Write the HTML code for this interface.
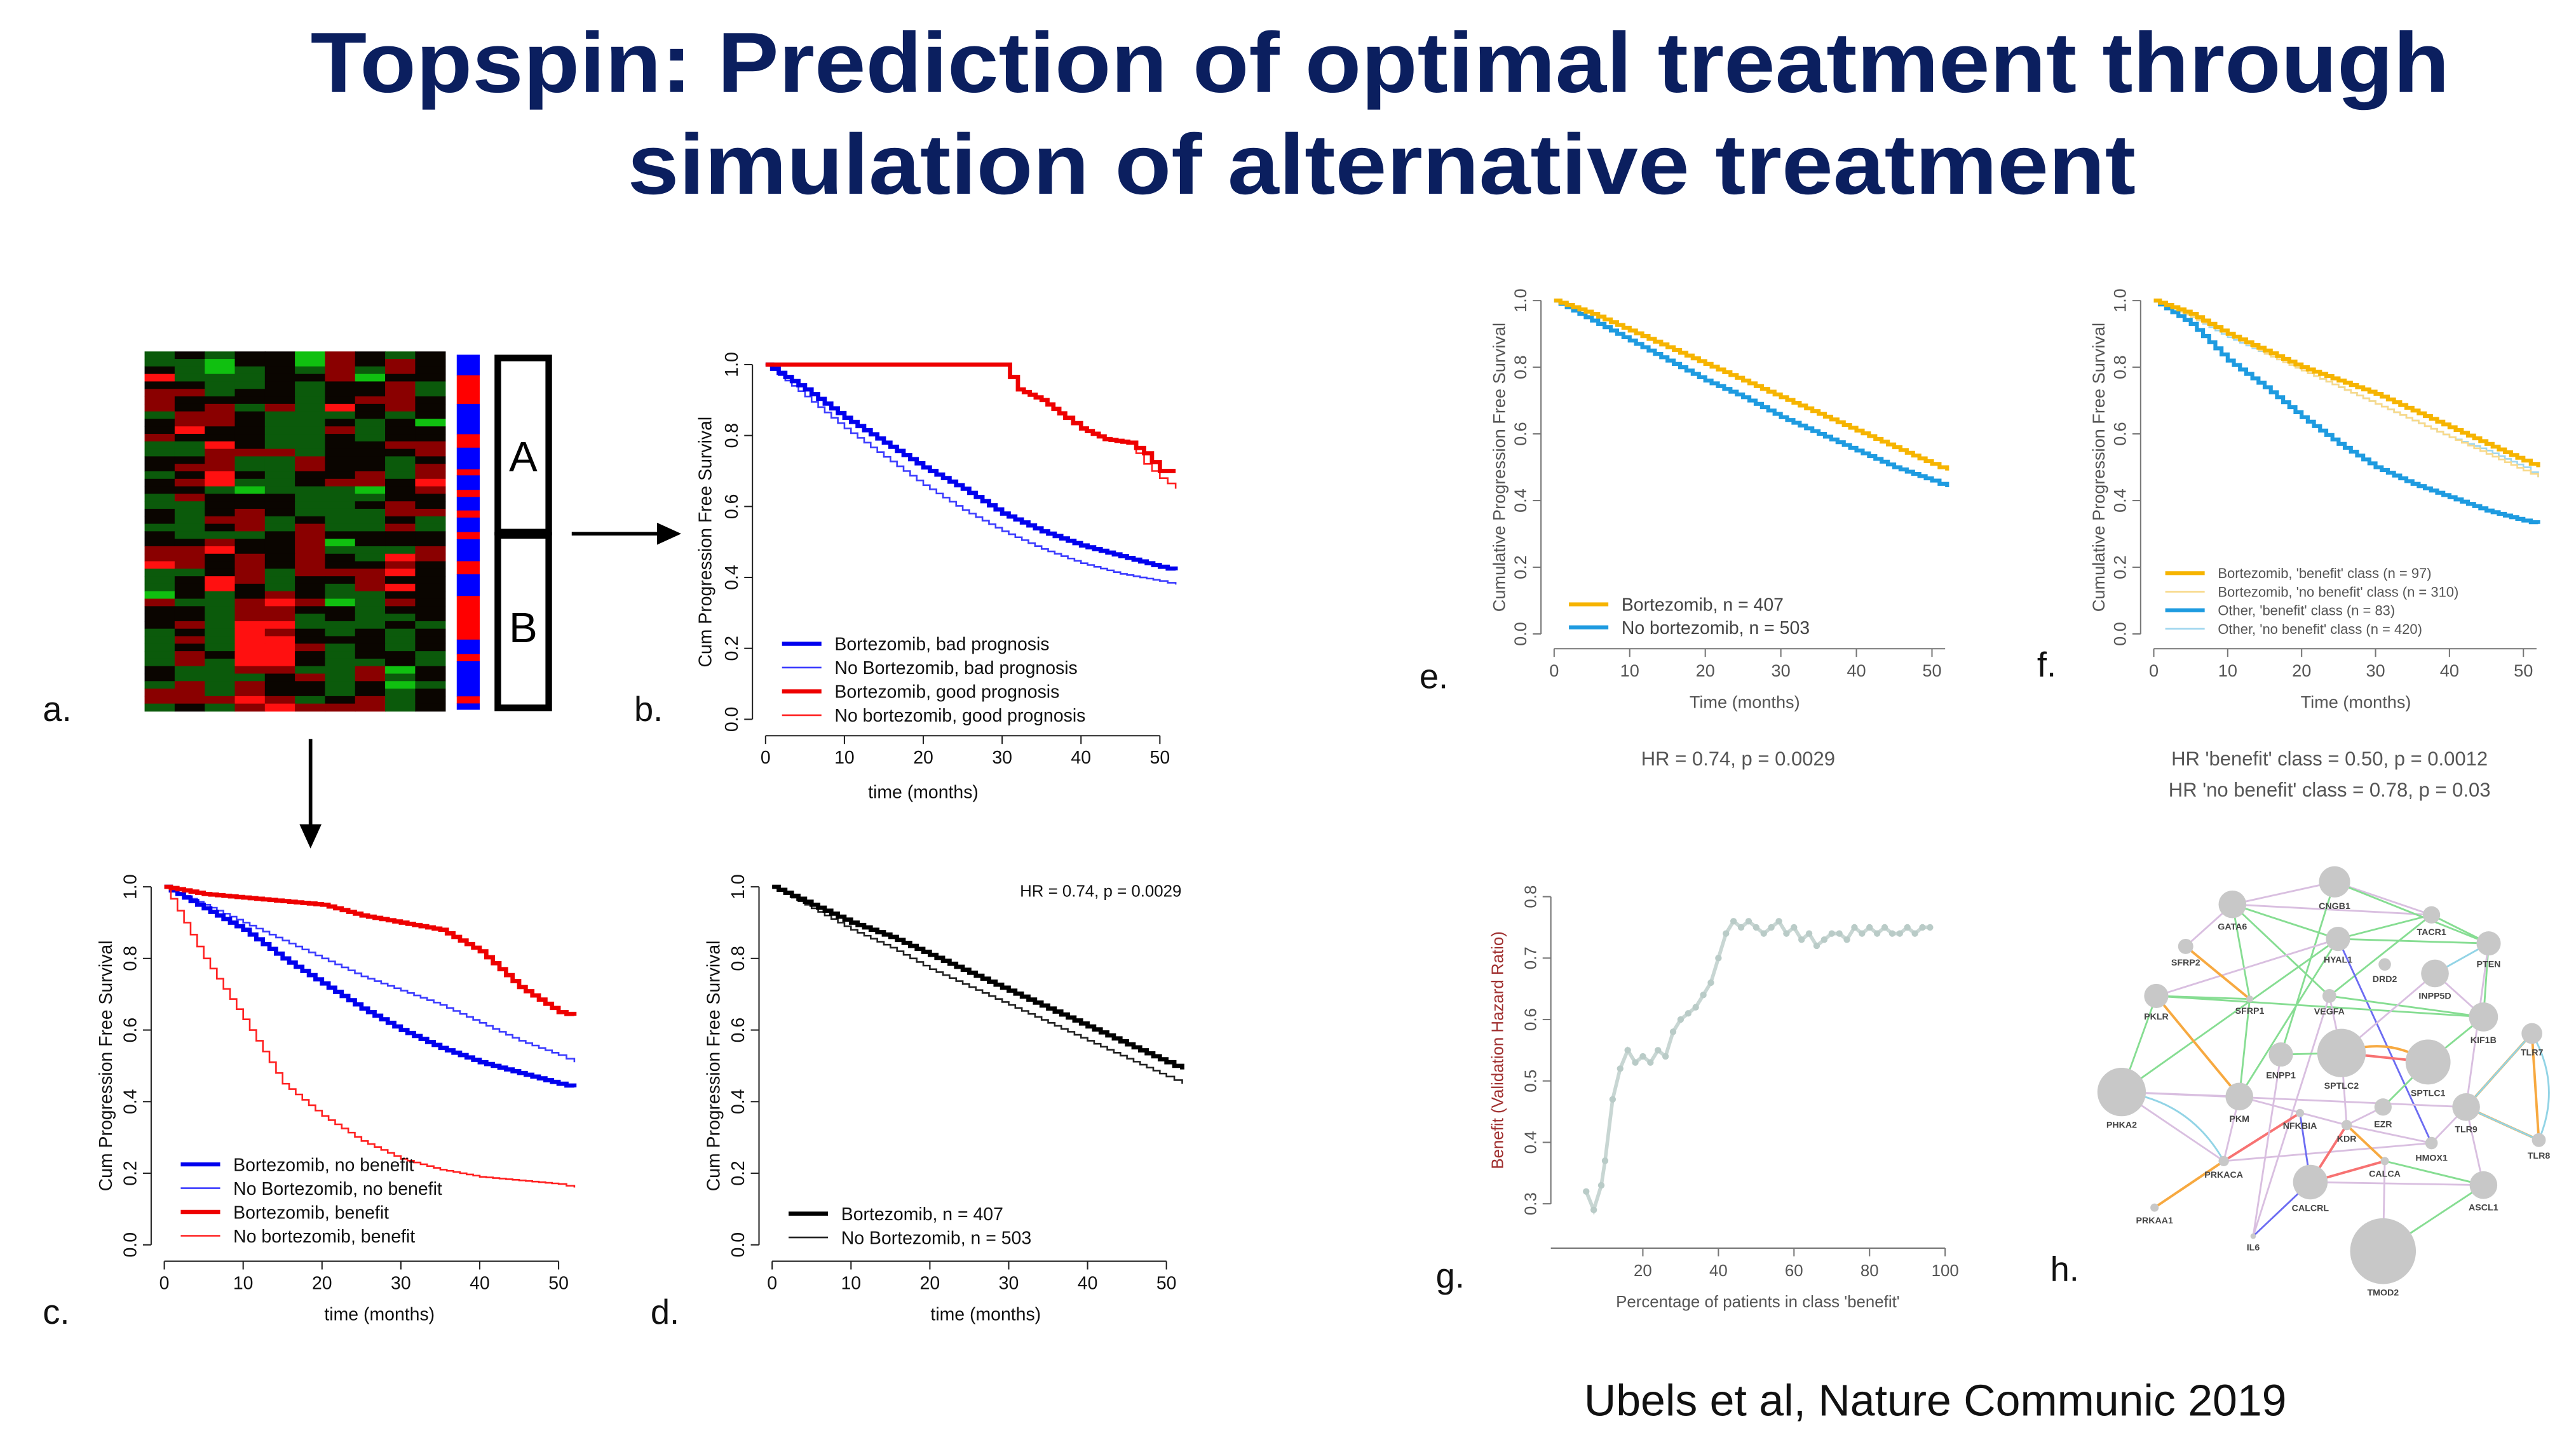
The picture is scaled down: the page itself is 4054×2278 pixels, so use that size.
<!DOCTYPE html>
<html><head><meta charset="utf-8">
<style>
html,body{margin:0;padding:0;background:#fff;}
svg{display:block;}
text{font-family:"Liberation Sans",Arial,sans-serif;}
</style></head>
<body>
<svg id="root" xmlns="http://www.w3.org/2000/svg" width="4054" height="2278" viewBox="0 0 1568 881.1">
<rect x="0" y="0" width="1568" height="881.1" fill="#fff"/>
<g fill="#0b1f5f" font-weight="bold" font-size="52" text-anchor="middle">
<text x="840" y="56" textLength="1302" lengthAdjust="spacingAndGlyphs">Topspin: Prediction of optimal treatment through</text>
<text x="841" y="118" textLength="918" lengthAdjust="spacingAndGlyphs">simulation of alternative treatment</text>
</g>
<text x="1178" y="862" font-size="27" text-anchor="middle" fill="#111">Ubels et al, Nature Communic 2019</text>
<g id="panelLabels" font-size="21" fill="#111"></g>
<g id="heat"></g>
<g id="plots"></g>
<g id="net"></g>
</svg>
<script>
// ---------- data ----------
const heatRows = ["gkgkkGrkgk","ggGkkGrkrk","kgGgkgrgrk","RgggkkrGkk","kkggkgkkrg","rrgkkgkkrg","rkkkkgkrrk","rkrgrgRkrk","grrkgggkgk","krrkggkgkG","kRkkggrgkk","rkkkggkgkk","ggRkggkkrr","ggrrrgkkkr","kkrggrkkgk","krrggrkkgr","gkRkgkkrgr","krRggkrrkR","kkgGgggGkr","grkkkgggkk","ggkkkggkrk","kgkrkgggrr","kgrrgkggkg","ggkrgrggrg","kgggkrkkkk","kkrkkrGkkk","rrRkkrgggr","rrkrkrkgRr","Rrkrkrkkrk","ggkrgrrrRk","gkRrgkkrkk","gkRkgkgrRk","Gkgkrkggkk","rggrRrGgrk","kkgrrkkgkk","kkgrrgkggk","krgRRgggkg","gkgRrkgkgk","grgRRkkkgk","gkgRRrgkgk","grkRRkgkkg","grgRRkggkg","kggrrggrGk","kgggkrgrgk","grgrkkgkGg","rrgrkkgkgk","rrrRrgkrgk","gkgrRrrrgk"];
const stripBreaks = [0,0.058,0.139,0.224,0.262,0.323,0.340,0.381,0.401,0.439,0.459,0.500,0.520,0.582,0.619,0.680,0.803,0.844,0.864,0.963,0.983,1];
const months = [0,5,10,15,20,25,30,35,40,45,50,52];
// panel b
const bBortBad   = [1,0.93,0.85,0.78,0.71,0.65,0.58,0.53,0.49,0.46,0.43,0.42];
const bNoBortBad = [1,0.91,0.82,0.74,0.66,0.59,0.53,0.48,0.44,0.41,0.39,0.38];
const bGoodT     = [0,30,32,35,38,40,43,46,48,50,52];
const bBortGood  = [1,1,0.93,0.90,0.85,0.82,0.79,0.78,0.75,0.70,0.70];
const bNoBortGood= [1,1,0.93,0.90,0.85,0.82,0.79,0.78,0.72,0.68,0.65];
// panel c
const cBortNo    = [1,0.94,0.88,0.80,0.73,0.66,0.60,0.55,0.51,0.48,0.45,0.44];
const cNoBortNo  = [1,0.95,0.90,0.85,0.80,0.75,0.71,0.67,0.62,0.57,0.53,0.51];
const cBortBen   = [1,0.98,0.97,0.96,0.95,0.92,0.90,0.88,0.82,0.72,0.65,0.64];
const cNoBortBen = [1,0.80,0.63,0.45,0.36,0.29,0.24,0.21,0.19,0.18,0.17,0.16];
// panel d
const dBort      = [1,0.95,0.90,0.86,0.81,0.76,0.71,0.66,0.61,0.56,0.51,0.49];
const dNoBort    = [1,0.94,0.88,0.83,0.77,0.72,0.67,0.62,0.57,0.52,0.47,0.45];
// panel e
const eBort      = [1,0.96,0.91,0.86,0.81,0.76,0.71,0.66,0.61,0.56,0.51,0.49];
const eNoBort    = [1,0.94,0.88,0.82,0.76,0.71,0.65,0.60,0.55,0.50,0.46,0.44];
// panel f
const fBortBen   = [1,0.96,0.90,0.85,0.80,0.76,0.72,0.67,0.62,0.57,0.52,0.50];
const fBortNo    = [1,0.95,0.90,0.84,0.79,0.74,0.69,0.64,0.59,0.54,0.49,0.47];
const fOtherBen  = [1,0.93,0.82,0.74,0.65,0.57,0.50,0.45,0.41,0.37,0.34,0.33];
const fOtherNo   = [1,0.95,0.89,0.84,0.79,0.74,0.69,0.64,0.59,0.55,0.50,0.47];
// panel g
const gPct = [5,7,9,10,12,14,16,18,20,22,24,26,28,30,32,34,36,38,40,42,44,46,48,50,52,54,56,58,60,62,64,66,68,70,72,74,76,78,80,82,84,86,88,90,92,94,96];
const gHR  = [0.32,0.29,0.33,0.37,0.47,0.52,0.55,0.53,0.54,0.53,0.55,0.54,0.58,0.60,0.61,0.62,0.64,0.66,0.70,0.74,0.76,0.75,0.76,0.75,0.74,0.75,0.76,0.74,0.75,0.73,0.74,0.72,0.73,0.74,0.74,0.73,0.75,0.74,0.75,0.74,0.75,0.74,0.74,0.75,0.74,0.75,0.75];
const xTicks50 = [0,10,20,30,40,50];
const yTicks1 = [0,0.2,0.4,0.6,0.8,1.0];
const gXTicks = [20,40,60,80,100];
const gYTicks = [0.3,0.4,0.5,0.6,0.7,0.8];
// network (positions in zoom units)
const netNodes = [["CNGB1",870,100,45],["GATA6",575,175,40],["TACR1",1150,210,25],["HYAL1",880,290,35],["SFRP2",440,315,22],["PTEN",1315,305,35],["DRD2",1015,375,18],["INPP5D",1160,405,40],["PKLR",355,480,35],["SFRP1",625,490,10],["VEGFA",855,480,20],["KIF1B",1300,550,42],["TLR7",1440,605,30],["ENPP1",715,675,35],["SPTLC2",890,670,70],["SPTLC1",1140,700,65],["PHKA2",255,800,70],["PKM",595,815,40],["EZR",1010,850,25],["NFKBIA",770,870,12],["TLR9",1250,850,40],["KDR",905,910,15],["HMOX1",1150,970,18],["TLR8",1460,960,20],["PRKACA",550,1030,15],["CALCA",1015,1030,12],["CALCRL",800,1100,50],["ASCL1",1300,1110,40],["PRKAA1",350,1185,12],["IL6",635,1280,8],["TMOD2",1010,1330,95]];
const netEdges = [["GATA6","TACR1","l"],["GATA6","HYAL1","g"],["GATA6","SFRP1","g"],["GATA6","VEGFA","g"],["GATA6","CNGB1","l"],["CNGB1","TACR1","l"],["CNGB1","PTEN","g"],["CNGB1","ENPP1","g"],["TACR1","HYAL1","g"],["TACR1","PTEN","g"],["TACR1","VEGFA","g"],["HYAL1","PTEN","g"],["HYAL1","PKLR","l"],["HYAL1","PHKA2","g"],["HYAL1","HMOX1","b"],["HYAL1","PKM","g"],["SFRP2","SFRP1","o"],["SFRP2","GATA6","l"],["PKLR","SFRP1","g"],["PKLR","KIF1B","g"],["PKLR","PKM","o"],["PKLR","PHKA2","g"],["SFRP1","PKM","g"],["VEGFA","KIF1B","g"],["VEGFA","IL6","l"],["VEGFA","SPTLC2","l"],["PTEN","INPP5D","c"],["PTEN","KIF1B","g"],["PTEN","TLR9","l"],["INPP5D","SPTLC2","l"],["INPP5D","KIF1B","l"],["SPTLC2","SPTLC1","r"],["SPTLC2","SPTLC1","o"],["SPTLC1","EZR","g"],["SPTLC1","KIF1B","g"],["PHKA2","PKM","l"],["PHKA2","TLR9","l"],["PHKA2","PRKACA","l"],["PHKA2","PRKACA","c"],["PKM","PRKACA","l"],["PKM","KDR","l"],["PRKACA","NFKBIA","r"],["PRKACA","PRKAA1","o"],["PRKACA","HMOX1","l"],["NFKBIA","CALCRL","b"],["KDR","CALCRL","r"],["KDR","CALCA","o"],["KDR","SPTLC2","l"],["CALCRL","CALCA","r"],["CALCRL","ASCL1","l"],["CALCRL","IL6","b"],["CALCA","TMOD2","l"],["CALCA","ASCL1","g"],["TMOD2","ASCL1","g"],["TLR9","TLR7","o"],["TLR9","TLR8","o"],["TLR9","TLR7","c"],["TLR9","TLR8","c"],["TLR7","TLR8","o"],["TLR7","TLR8","c"],["TLR9","ASCL1","l"],["TLR9","HMOX1","l"],["ENPP1","IL6","l"],["ENPP1","SPTLC2","g"],["EZR","KDR","l"],["HMOX1","KDR","l"]];
const edgeColors = {g:"#86dd92",l:"#d9bfe0",o:"#f7a940",r:"#f77272",b:"#6c6cf2",c:"#92d4e6"};
const heatColors = {R:"#ff1010",r:"#8a0000",k:"#0a0500",g:"#0b5a0b",G:"#10c010"};

// ---------- helpers ----------
const NS="http://www.w3.org/2000/svg";
function mk(tag, parent, attrs){const e=document.createElementNS(NS,tag);for(const k in attrs)e.setAttribute(k,attrs[k]);parent.appendChild(e);return e;}

// panel letters
const letters=[["a.",26,439],["b.",386,439],["c.",26,806],["d.",396,806],["e.",864,419],["f.",1240,412],["g.",874,784],["h.",1248,780]];
const pl=document.getElementById('panelLabels');
letters.forEach(l=>{const t=mk('text',pl,{x:l[1],y:l[2]});t.textContent=l[0];

});

// heatmap
const heat=document.getElementById('heat');
const hx=88,hy=214,hw=183,hh=219;
const rh=hh/heatRows.length, cw=hw/10;
heatRows.forEach((row,i)=>{for(let j=0;j<10;j++){const c=mk('rect',heat,{x:hx+j*cw,y:hy+i*rh,width:cw+0.3,height:rh+0.3,fill:heatColors[row[j]]});

}});
for(let i=0;i<stripBreaks.length-1;i++){const s=mk('rect',heat,{x:278,y:216+stripBreaks[i]*216,width:14,height:(stripBreaks[i+1]-stripBreaks[i])*216+0.2,fill:i%2==0?"#0000ff":"#ff0000"});

}
const boxA=mk('rect',heat,{x:303,y:218,width:31,height:106,fill:"#fff",stroke:"#000","stroke-width":4});


const boxB=mk('rect',heat,{x:303,y:326,width:31,height:105,fill:"#fff",stroke:"#000","stroke-width":4});


[["A",318.5,287],["B",318.5,391]].forEach(a=>{const t=mk('text',heat,{x:a[1],y:a[2],"font-size":26,"text-anchor":"middle"});t.textContent=a[0];

});
// arrows
const ar1=mk('path',heat,{d:"M348 325 L404 325 M412 325 L401 320 L401 330 Z",stroke:"#000","stroke-width":2.2,fill:"#000"});


const ar2=mk('path',heat,{d:"M189 450 L189 505 M189 514 L184 503 L194 503 Z",stroke:"#000","stroke-width":2.2,fill:"#000"});



// ---------- KM plots ----------
const plots=document.getElementById('plots');
function panel(cfg){
  const g=mk('g',plots,{});
  
  
  const X=v=>cfg.x0+(v-cfg.xmin)*cfg.xs;
  const Y=v=>cfg.yb+(v-cfg.ymin)/(cfg.ymax-cfg.ymin)*(cfg.yt-cfg.yb);
  const col=cfg.axisColor, fs=cfg.fs;
  const ya=mk('line',g,{x1:cfg.yAxisX,x2:cfg.yAxisX,y1:Y(cfg.yTicks[0]),y2:Y(cfg.yTicks[cfg.yTicks.length-1]),stroke:col,"stroke-width":0.8});
  
  
  cfg.yTicks.forEach(v=>{mk('line',g,{x1:cfg.yAxisX-5,x2:cfg.yAxisX,y1:Y(v),y2:Y(v),stroke:col,"stroke-width":0.8});
    const t=mk('text',g,{x:cfg.yAxisX-9,y:Y(v),"font-size":fs,fill:cfg.textColor,"text-anchor":"middle",transform:`rotate(-90 ${cfg.yAxisX-9} ${Y(v)})`});
    t.textContent=v.toFixed(1);
    
    });
  const xa=mk('line',g,{x1:cfg.xAxisStart!==undefined?cfg.xAxisStart:X(cfg.xTicks[0]),x2:X(cfg.xTicks[cfg.xTicks.length-1])+(cfg.xExt||0),y1:cfg.xAxisY,y2:cfg.xAxisY,stroke:col,"stroke-width":0.8});
  
  
  cfg.xTicks.forEach(v=>{mk('line',g,{x1:X(v),x2:X(v),y1:cfg.xAxisY,y2:cfg.xAxisY+5,stroke:col,"stroke-width":0.8});
    const t=mk('text',g,{x:X(v),y:cfg.xAxisY+17,"font-size":fs,fill:cfg.textColor,"text-anchor":"middle"});
    t.textContent=String(v);
    
    });
  const xl=mk('text',g,{x:cfg.xlab[1],y:cfg.xlab[2],"font-size":fs,fill:cfg.textColor,"text-anchor":"middle"});
  xl.textContent=cfg.xlab[0];
  
  
  const ylY=(cfg.yt+cfg.yb)/2;
  const yl=mk('text',g,{x:cfg.ylabX,y:ylY,"font-size":fs,fill:cfg.ylabColor||cfg.textColor,"text-anchor":"middle",transform:`rotate(-90 ${cfg.ylabX} ${ylY})`});
  yl.textContent=cfg.ylab;
  
  
  return {g,X,Y};
}
function stepCurve(p,times,vals,color,w,name){
  let d=`M${p.X(times[0])} ${p.Y(vals[0])}`;
  for(let i=1;i<times.length;i++){
    const t0=times[i-1],t1=times[i],v0=vals[i-1],v1=vals[i];
    const n=Math.max(1,Math.round((t1-t0)*1.2));
    for(let k=1;k<=n;k++){
      const tt=t0+(t1-t0)*k/n; const vv=v0+(v1-v0)*k/n;
      d+=` H${p.X(tt).toFixed(2)} V${p.Y(vv).toFixed(2)}`;
    }
  }
  const e=mk('path',p.g,{d:d,stroke:color,"stroke-width":w,fill:"none","stroke-linejoin":"miter"});
  
  
}
function legend(p,x,y0,dy,items,fs,color){
  items.forEach((it,i)=>{const y=y0+i*dy;
    const l=mk('line',p.g,{x1:x,x2:x+24,y1:y,y2:y,stroke:it[1],"stroke-width":it[2]});
    
    
    const t=mk('text',p.g,{x:x+32,y:y+fs*0.36,"font-size":fs,fill:color});
    t.textContent=it[0];
    
    });
}
function txt(p,s,x,y,fs,color,name){const t=mk('text',p.g,{x:x,y:y,"font-size":fs,fill:color,"text-anchor":"middle"});t.textContent=s;

}

const base={xmin:0,ymin:0,ymax:1,xTicks:xTicks50,yTicks:yTicks1,axisColor:"#222",textColor:"#111",fs:11};
let pb=panel(Object.assign({},base,{name:"km-plot-b",x0:466,xs:4.8,yt:222,yb:438,yAxisX:458,xAxisY:448,xlab:["time (months)",562,486],ylab:"Cum Progression Free Survival",ylabX:433}));
stepCurve(pb,months,bNoBortBad,"#3b3bff",1,"curve-no-bortezomib-bad");
stepCurve(pb,months,bBortBad,"#0000ee",2.6,"curve-bortezomib-bad");
stepCurve(pb,bGoodT,bNoBortGood,"#ff2020",1,"curve-no-bortezomib-good");
stepCurve(pb,bGoodT,bBortGood,"#ee0000",2.6,"curve-bortezomib-good");
legend(pb,476,392,14.5,[["Bortezomib, bad prognosis","#0000ee",2.5],["No Bortezomib, bad prognosis","#3b3bff",1],["Bortezomib, good prognosis","#ee0000",2.5],["No bortezomib, good prognosis","#ff2020",1]],11,"#111");
let pc=panel(Object.assign({},base,{name:"km-plot-c",x0:100,xs:4.8,yt:540,yb:758,yAxisX:92,xAxisY:768,xlab:["time (months)",231,804],ylab:"Cum Progression Free Survival",ylabX:68}));
stepCurve(pc,months,cNoBortNo,"#3b3bff",1,"curve-no-bortezomib-no-benefit");
stepCurve(pc,months,cBortNo,"#0000ee",2.6,"curve-bortezomib-no-benefit");
stepCurve(pc,months,cNoBortBen,"#ff2020",1,"curve-no-bortezomib-benefit");
stepCurve(pc,months,cBortBen,"#ee0000",2.6,"curve-bortezomib-benefit");
legend(pc,110,709,14.5,[["Bortezomib, no benefit","#0000ee",2.5],["No Bortezomib, no benefit","#3b3bff",1],["Bortezomib, benefit","#ee0000",2.5],["No bortezomib, benefit","#ff2020",1]],11,"#111");
let pd=panel(Object.assign({},base,{name:"km-plot-d",x0:470,xs:4.8,yt:540,yb:758,yAxisX:462,xAxisY:768,xlab:["time (months)",600,804],ylab:"Cum Progression Free Survival",ylabX:438}));
stepCurve(pd,months,dNoBort,"#222",1,"curve-no-bortezomib");
stepCurve(pd,months,dBort,"#000",2.6,"curve-bortezomib");
legend(pd,480,739,14.5,[["Bortezomib, n = 407","#000",2.5],["No Bortezomib, n = 503","#222",1]],11,"#111");
txt(pd,"HR = 0.74, p = 0.0029",670,546,10,"#111","hazard-ratio-d");
const eb=Object.assign({},base,{axisColor:"#777",textColor:"#555",fs:10.5});
let pe=panel(Object.assign({},eb,{name:"km-plot-e",x0:946,xs:4.6,yt:183,yb:386,yAxisX:938,xAxisY:395,xExt:8,xlab:["Time (months)",1062,431],ylab:"Cumulative Progression Free Survival",ylabX:916}));
stepCurve(pe,months,eNoBort,"#1e9be0",2.4,"curve-no-bortezomib");
stepCurve(pe,months,eBort,"#f6b400",2.4,"curve-bortezomib");
legend(pe,955,368,14,[["Bortezomib, n = 407","#f6b400",2.4],["No bortezomib, n = 503","#1e9be0",2.4]],11,"#444");
txt(pe,"HR = 0.74, p = 0.0029",1058,466,12,"#555","hazard-ratio-e");
let pf=panel(Object.assign({},eb,{name:"km-plot-f",x0:1311,xs:4.5,yt:183,yb:386,yAxisX:1303,xAxisY:395,xExt:8,xlab:["Time (months)",1434,431],ylab:"Cumulative Progression Free Survival",ylabX:1281}));
stepCurve(pf,months,fOtherNo,"#9fd6ef",1,"curve-other-no-benefit");
stepCurve(pf,months,fBortNo,"#f8d98a",1,"curve-bortezomib-no-benefit");
stepCurve(pf,months,fOtherBen,"#1e9be0",2.4,"curve-other-benefit");
stepCurve(pf,months,fBortBen,"#f6b400",2.4,"curve-bortezomib-benefit");
const fl=[["Bortezomib, 'benefit' class (n = 97)","#f6b400",2.4],["Bortezomib, 'no benefit' class (n = 310)","#f8d98a",1],["Other, 'benefit' class (n = 83)","#1e9be0",2.4],["Other, 'no benefit' class (n = 420)","#9fd6ef",1]];
legend(pf,1318,349,11.3,fl,8.5,"#555");
txt(pf,"HR 'benefit' class = 0.50, p = 0.0012",1418,466,12,"#555","hazard-ratio-f-benefit");
txt(pf,"HR 'no benefit' class = 0.78, p = 0.03",1418,485,12,"#555","hazard-ratio-f-no-benefit");
let pg=panel(Object.assign({},eb,{name:"benefit-plot-g",xmin:0,x0:954,xs:2.3,ymin:0.3,ymax:0.8,yt:546,yb:733,xTicks:gXTicks,yTicks:gYTicks,yAxisX:944,xAxisY:760,xAxisStart:944,xlab:["Percentage of patients in class 'benefit'",1070,796],ylab:"Benefit (Validation Hazard Ratio)",ylabX:915,ylabColor:"#a03030",fs:10}));
{let d="";gPct.forEach((v,i)=>{d+=(i?" L":"M")+pg.X(v).toFixed(2)+" "+pg.Y(gHR[i]).toFixed(2);});
const ln=mk('path',pg.g,{d:d,stroke:"#c8d6d3","stroke-width":2.2,fill:"none"});


gPct.forEach((v,i)=>{const c=mk('circle',pg.g,{cx:pg.X(v),cy:pg.Y(gHR[i]),r:2,fill:"#b9cbc7"});

});}

// ---------- network ----------
const net=document.getElementById('net');
const NX=z=>1237.7+z/4.745, NY=z=>518.7+z/5.47;
const nodeMap={};netNodes.forEach(n=>nodeMap[n[0]]=n);
netEdges.forEach((e,i)=>{const a=nodeMap[e[0]],b=nodeMap[e[1]];
  const x1=NX(a[1]),y1=NY(a[2]),x2=NX(b[1]),y2=NY(b[2]);
  const curved=(i>0&&netEdges[i-1][0]==e[0]&&netEdges[i-1][1]==e[1]);
  let d;
  if(curved){const mx=(x1+x2)/2+(y2-y1)*0.25,my=(y1+y2)/2-(x2-x1)*0.25;d=`M${x1} ${y1} Q${mx} ${my} ${x2} ${y2}`;}
  else d=`M${x1} ${y1} L${x2} ${y2}`;
  const p=mk('path',net,{d:d,stroke:edgeColors[e[2]],"stroke-width":(e[2]=='o'||e[2]=='r')?1.5:1.1,fill:"none"});
  
  });
netNodes.forEach(n=>{const c=mk('circle',net,{cx:NX(n[1]),cy:NY(n[2]),r:n[3]/4.745,fill:"#c8c8c8"});
  
  });
netNodes.forEach(n=>{const t=mk('text',net,{x:NX(n[1]),y:NY(n[2])+n[3]/4.745+7,"font-size":5.5,"font-weight":"bold",fill:"#444","text-anchor":"middle"});
  t.textContent=n[0];
  
  });
</script>
</body></html>
